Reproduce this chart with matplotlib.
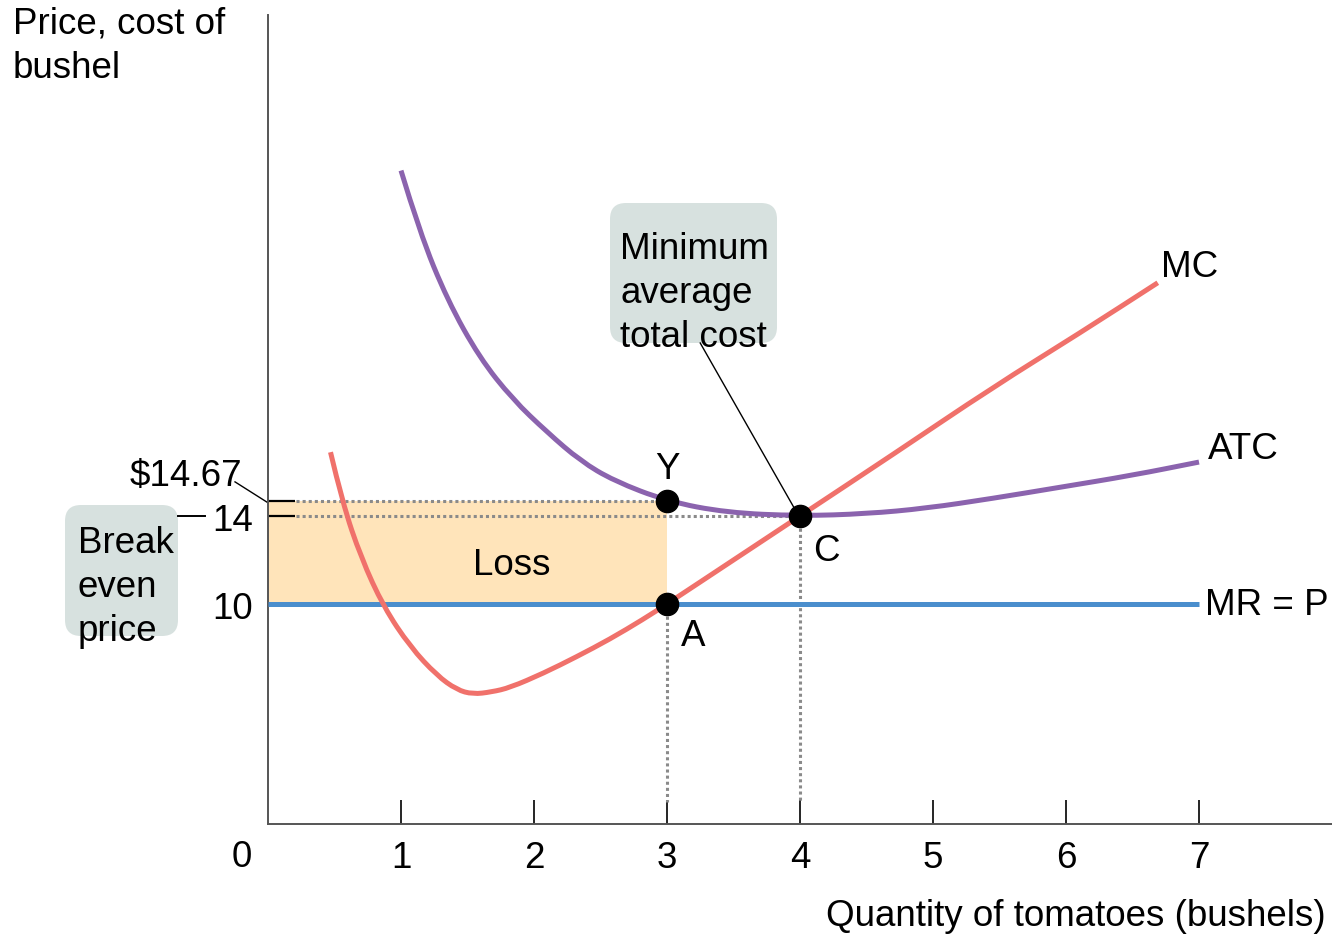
import matplotlib
matplotlib.use('Agg')
import matplotlib.pyplot as plt
from matplotlib.patches import FancyBboxPatch, Rectangle, PathPatch
from matplotlib.path import Path

# values
mc_q = [0.47, 0.56, 0.70, 0.87, 1.07, 1.27, 1.42, 1.54, 1.68, 1.82, 2.07, 2.32, 2.57, 2.82, 3.0, 3.5, 4.0, 4.7, 5.45, 6.1, 6.69]
mc_p = [16.9, 14.6, 12.1, 9.86, 8.05, 6.75, 6.1, 5.9, 6.0, 6.2, 6.85, 7.6, 8.4, 9.3, 10.0, 12.0, 14.0, 16.8, 19.85, 22.3, 24.6]

atc_q = [1.0, 1.14, 1.35, 1.59, 1.84, 2.1, 2.35, 2.6, 3.0, 3.45, 4.0, 4.5, 4.95, 5.45, 5.95, 6.5, 7.0]
atc_p = [29.7, 26.9, 23.8, 21.2, 19.3, 17.8, 16.5, 15.6, 14.67, 14.15, 14.0, 14.1, 14.35, 14.8, 15.3, 15.85, 16.45]

price = 10
q_loss = 3
atc_at_q = 14.67
min_atc = 14
q_min = 4
xticks = [1, 2, 3, 4, 5, 6, 7]

plt.rcParams['font.family'] = ['Liberation Sans', 'DejaVu Sans']
FS = 26.5


def smooth_curve(ax, xs, ys, **kw):
    # quadratic bezier through midpoints, read points act as control points
    pts = list(zip(xs, ys))
    verts = [pts[0]]
    codes = [Path.MOVETO]
    for i in range(1, len(pts) - 1):
        mid = ((pts[i][0] + pts[i + 1][0]) / 2, (pts[i][1] + pts[i + 1][1]) / 2)
        verts += [pts[i], mid]
        codes += [Path.CURVE3, Path.CURVE3]
    verts.append(pts[-1])
    codes.append(Path.LINETO)
    ax.add_patch(PathPatch(Path(verts, codes), facecolor='none', capstyle='butt', **kw))


fig = plt.figure(figsize=(13.32, 9.38), dpi=100)
ax = fig.add_axes([268 / 1332, 114 / 938, 1064 / 1332, 809 / 938])
ax.set_xlim(0, 8)
ax.set_ylim(0, 36.77)
for s in ['top', 'right']:
    ax.spines[s].set_visible(False)
for s in ['left', 'bottom']:
    ax.spines[s].set_color('#555555')
    ax.spines[s].set_linewidth(1.4)

ax.set_xticks(xticks)
ax.set_xticklabels([str(t) for t in xticks], fontsize=FS)
ax.tick_params(axis='x', direction='in', length=17, width=1.2, color='black', pad=12)
ax.set_yticks([min_atc, atc_at_q])
ax.set_yticklabels(['', ''])
ax.tick_params(axis='y', direction='in', length=19.5, width=1.6, color='black')
ax.text(-0.195, -1.5, '0', fontsize=FS, ha='center', va='center')

# loss area
ax.add_patch(Rectangle((0, price), q_loss, atc_at_q - price, facecolor='#FFE4BA', edgecolor='none', zorder=1))

# dotted guides
dot = dict(color='#8a8a8a', lw=2.2, linestyle=(0, (1, 1)), zorder=2)
ax.plot([0.21, q_loss], [atc_at_q, atc_at_q], **dot)
ax.plot([0.21, q_min], [min_atc, min_atc], **dot)
ax.plot([q_loss, q_loss], [price, 1.0], **dot)
ax.plot([q_min, q_min], [min_atc, 1.0], **dot)

# curves
ax.plot([0, 7], [price, price], color='#4A8ECD', lw=3.6, zorder=3, solid_capstyle='butt')
smooth_curve(ax, mc_q, mc_p, edgecolor='#F0716B', lw=3.6, zorder=4)
smooth_curve(ax, atc_q, atc_p, edgecolor='#8B63AE', lw=3.6, zorder=4)

ax.plot([q_loss, q_loss, q_min], [atc_at_q, price, min_atc], 'o', color='black', ms=16, zorder=6)

dy = 0.2
ax.text(3.0, 16.3 - dy, 'Y', fontsize=FS, ha='center', va='center')
ax.text(3.195, 8.73 - dy, 'A', fontsize=FS, ha='center', va='center')
ax.text(4.2, 12.6 - dy, 'C', fontsize=FS, ha='center', va='center')
ax.text(6.93, 25.5 - dy, 'MC', fontsize=FS, ha='center', va='center')
ax.text(7.33, 17.2 - dy, 'ATC', fontsize=FS, ha='center', va='center')
ax.text(7.045, 10.14 - dy, 'MR = P', fontsize=FS, ha='left', va='center', clip_on=False)
ax.text(1.83, 11.95 - dy, 'Loss', fontsize=FS, ha='center', va='center')

# y-side labels
ax.text(-0.11, 14 - 0.27, '14', fontsize=FS, ha='right', va='center')
ax.text(-0.11, 10 - 0.27, '10', fontsize=FS, ha='right', va='center')
ax.text(-0.195, 15.95 - 0.15, '$14.67', fontsize=FS, ha='right', va='center')
ax.plot([-0.248, 0], [15.55, 14.6], color='black', lw=1, clip_on=False)
ax.plot([-0.68, -0.47], [14, 14], color='black', lw=1.4, clip_on=False)

# callout boxes
asp = 1332 / 938
fig.add_artist(FancyBboxPatch((65 / 1332, (938 - 636) / 938), 113 / 1332, 131 / 938,
                              boxstyle='round,pad=0,rounding_size=0.012', mutation_aspect=asp,
                              transform=fig.transFigure, facecolor='#D7E1DF', edgecolor='none', zorder=0))
fig.add_artist(FancyBboxPatch((610 / 1332, (938 - 343) / 938), 167 / 1332, 140 / 938,
                              boxstyle='round,pad=0,rounding_size=0.012', mutation_aspect=asp,
                              transform=fig.transFigure, facecolor='#D7E1DF', edgecolor='none', zorder=0))
ax.patch.set_alpha(0)
ax.text(-1.43, 10.75, 'Break\neven\nprice', fontsize=FS, ha='left', va='center', linespacing=1.34, clip_on=False)
ax.text(2.65, 24.1, 'Minimum\naverage\ntotal cost', fontsize=FS, ha='left', va='center', linespacing=1.34)
ax.plot([3.25, q_min], [21.86, 13.9], color='black', lw=1, zorder=5)

fig.text(13 / 1332, (938 - 6) / 938, 'Price, cost of\nbushel', fontsize=FS, ha='left', va='top', linespacing=1.36)
fig.text(826 / 1332, (938 - 916) / 938, 'Quantity of tomatoes (bushels)', fontsize=FS, ha='left', va='center')

fig.savefig('out.png', dpi=100)
